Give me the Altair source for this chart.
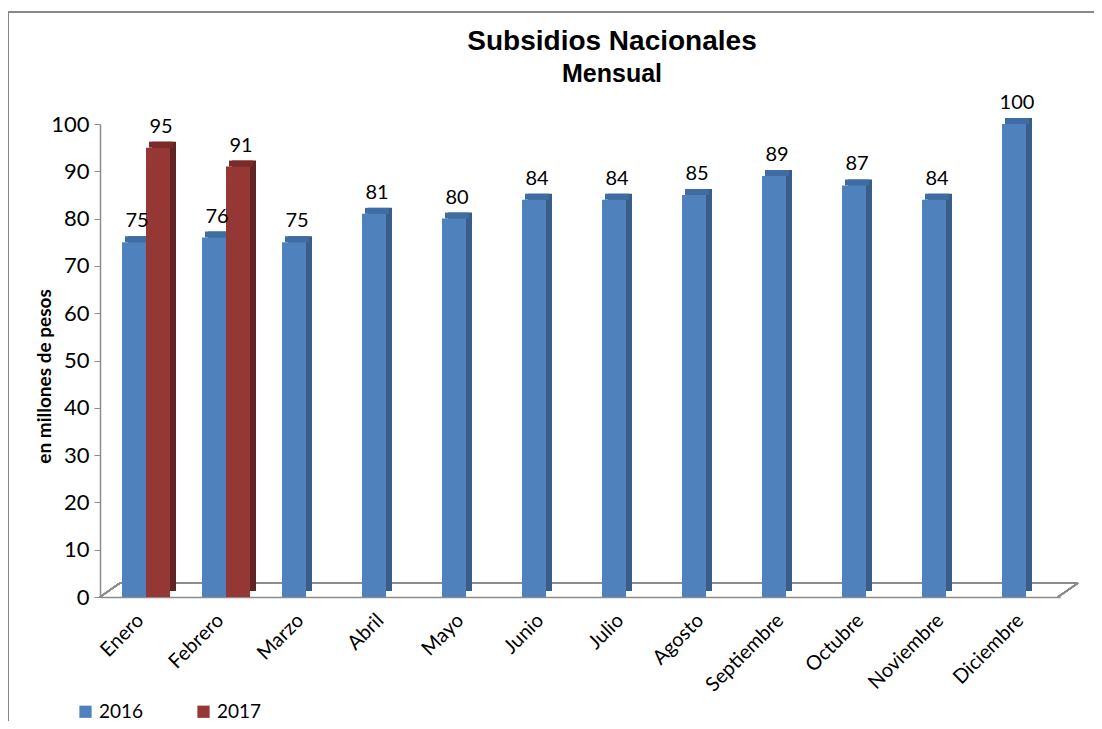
import altair as alt
import pandas as pd
import json

months = ["Enero", "Febrero", "Marzo", "Abril", "Mayo", "Junio", "Julio",
          "Agosto", "Septiembre", "Octubre", "Noviembre", "Diciembre"]
values_2016 = [75, 76, 75, 81, 80, 84, 84, 85, 89, 87, 84, 100]
months_2017 = ["Enero", "Febrero"]
values_2017 = [95, 91]
years = ["2016", "2017"]

rows = [{"mes": m, "anio": "2016", "valor": v} for m, v in zip(months, values_2016)]
rows += [{"mes": m, "anio": "2017", "valor": v} for m, v in zip(months_2017, values_2017)]
df = pd.DataFrame(rows)

W, H = 960, 473
FONT = "Lato"
GRAY = "#8c8c8c"

front_colors = alt.Scale(domain=years, range=["#4F81BD", "#953735"])
side_colors = alt.Scale(domain=years, range=["#385D8A", "#632523"])
top_colors = alt.Scale(domain=years, range=["#3F6CA3", "#7A2A28"])

month_js = json.dumps(months)

base = alt.Chart(df).transform_calculate(
    idx=f"indexof({month_js}, datum.mes)",
    yi=f"indexof({json.dumps(years)}, datum.anio)"
).transform_calculate(
    x0="datum.idx + 0.2 + datum.yi * 0.3",
    x1="datum.idx + 0.5 + datum.yi * 0.3",
    xc="datum.idx + 0.35 + datum.yi * 0.3"
)

x_scale = alt.Scale(domain=[0, 12], nice=False, zero=False)
x_axis = alt.Axis(title=None, values=[i + 0.5 for i in range(12)],
                  labelExpr=f"{month_js}[floor(datum.value)]",
                  labelAngle=-45, labelAlign="right", labelBaseline="middle",
                  labelFontSize=20, labelFont=FONT, labelColor="#000", labelPadding=20,
                  labelOverlap=False, labelBound=False, labelFlush=False,
                  ticks=False, grid=False, domainColor=GRAY, domainWidth=1.5)
y_scale = alt.Scale(domain=[0, 100])
y_axis = alt.Axis(title="en millones  de pesos", values=list(range(0, 101, 10)),
                  grid=False, labelFontSize=22, labelFont=FONT, labelColor="#000",
                  titleFont=FONT, titleFontSize=19, titleFontWeight="bold",
                  titleColor="#000", titleAngle=-90, titleX=-56, titleY=252,
                  titleAlign="center", titleBaseline="middle",
                  domainColor=GRAY, domainWidth=1.5, tickColor=GRAY,
                  tickSize=6, labelPadding=5)

X0 = alt.X("x0:Q", scale=x_scale, axis=x_axis)
X1 = alt.X2("x1:Q")
Y = alt.Y("valor:Q", scale=y_scale, axis=y_axis)

side = base.mark_bar(xOffset=12, x2Offset=12, yOffset=-6, y2Offset=-6).encode(
    x=X0, x2=X1, y=Y, y2=alt.datum(0),
    color=alt.Color("anio:N", scale=side_colors, legend=None))

top = base.mark_bar(xOffset=9, x2Offset=9, yOffset=-6).encode(
    x=X0, x2=X1, y=Y, y2=alt.Y2("valor:Q"),
    color=alt.Color("anio:N", scale=top_colors, legend=None))

front = base.mark_bar(xOffset=6, x2Offset=6).encode(
    x=X0, x2=X1, y=Y, y2=alt.datum(0),
    color=alt.Color("anio:N", scale=front_colors,
                    legend=alt.Legend(title=None, orient="none", legendX=-24, legendY=578,
                                      direction="horizontal", symbolType="square",
                                      symbolSize=150, symbolStrokeWidth=0,
                                      labelFontSize=19, labelFont=FONT, labelColor="#000",
                                      labelOffset=4, columnPadding=50)))

labels = base.mark_text(dx=9, dy=-11, baseline="bottom", fontSize=20,
                        font=FONT, color="#000").encode(
    x=alt.X("xc:Q", scale=x_scale, axis=x_axis), y=Y, text=alt.Text("valor:Q"))

floor_back = alt.Chart(df).mark_rule(color=GRAY, strokeWidth=1.5, yOffset=-14).encode(
    y=alt.datum(0), x=alt.value(20), x2=alt.value(978))
floor_left = alt.Chart(df).mark_rule(color=GRAY, strokeWidth=1.5, y2Offset=-14).encode(
    y=alt.datum(0), y2=alt.datum(0), x=alt.value(0), x2=alt.value(20))
floor_right = alt.Chart(df).mark_rule(color=GRAY, strokeWidth=1.5, y2Offset=-14).encode(
    y=alt.datum(0), y2=alt.datum(0), x=alt.value(958), x2=alt.value(978))

frame_top = alt.Chart(df).mark_rule(color="#888888", strokeWidth=1.5).encode(
    x=alt.value(-92), x2=alt.value(1010), y=alt.value(-112))
frame_left = alt.Chart(df).mark_rule(color="#888888", strokeWidth=1.5).encode(
    x=alt.value(-92), y=alt.value(-112), y2=alt.value(625))

chart = alt.layer(frame_top, frame_left, floor_back, floor_left, floor_right,
                  side, top, front, labels).resolve_scale(
    color="independent"
).properties(
    width=W, height=H,
    background="white",
    padding={"left": 92, "top": 116, "right": 34, "bottom": 124},
    autosize=alt.AutoSizeParams(type="none"),
    title=alt.TitleParams(text="Subsidios Nacionales", subtitle="Mensual",
                          font="Liberation Sans", fontSize=28, fontWeight="bold",
                          color="#000", subtitleFont="Liberation Sans",
                          subtitleFontSize=25, subtitleFontWeight="bold",
                          subtitleColor="#000", subtitlePadding=6,
                          anchor="middle", frame="group", offset=-76, dx=32)
).configure_view(stroke="transparent", strokeWidth=0)

chart.save("out.html", embed_options={"renderer": "svg", "actions": False})
